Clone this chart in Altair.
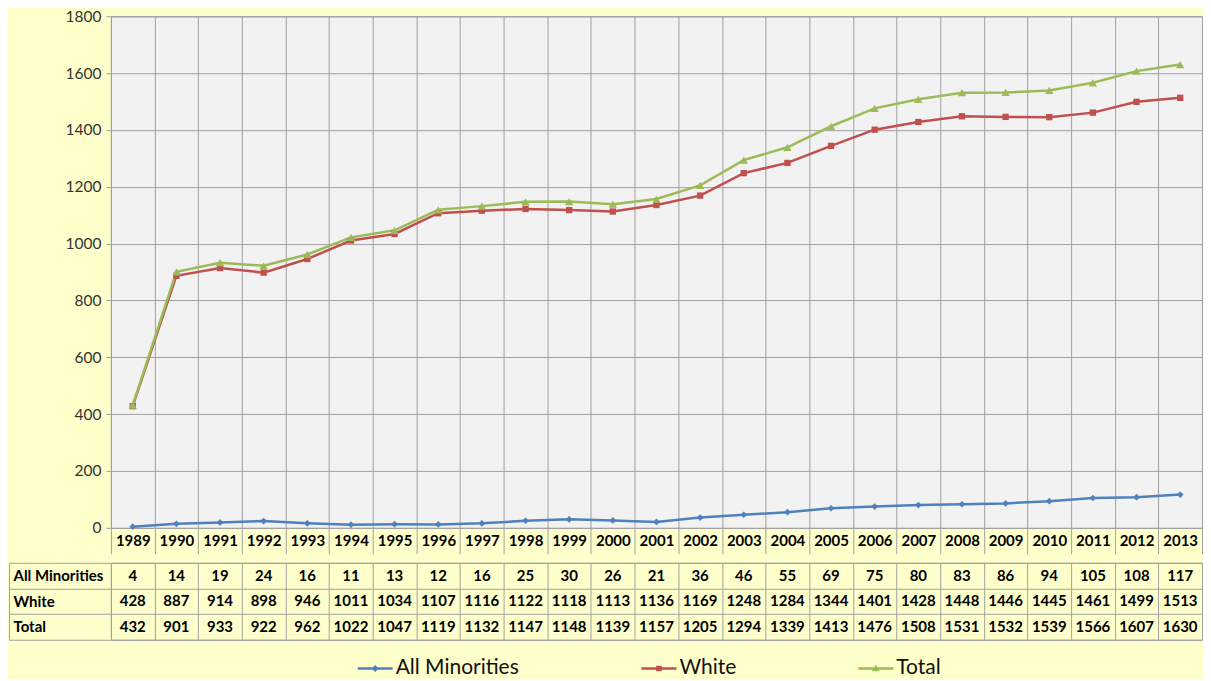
import altair as alt
import pandas as pd

years = [str(y) for y in range(1989, 2014)]
series_names = ["All Minorities", "White", "Total"]
minorities = [4, 14, 19, 24, 16, 11, 13, 12, 16, 25, 30, 26, 21, 36, 46, 55, 69, 75, 80, 83, 86, 94, 105, 108, 117]
white = [428, 887, 914, 898, 946, 1011, 1034, 1107, 1116, 1122, 1118, 1113, 1136, 1169, 1248, 1284, 1344, 1401, 1428, 1448, 1446, 1445, 1461, 1499, 1513]
total = [432, 901, 933, 922, 962, 1022, 1047, 1119, 1132, 1147, 1148, 1139, 1157, 1205, 1294, 1339, 1413, 1476, 1508, 1531, 1532, 1539, 1566, 1607, 1630]
y_ticks = [0, 200, 400, 600, 800, 1000, 1200, 1400, 1600, 1800]

colors = ["#4F81BD", "#C0504D", "#9BBB59"]
marker_shapes = ["diamond", "square", "triangle-up"]
marker_sizes = [45, 40, 70]
LINE_PART = "M-1,-0.07L1,-0.07L1,0.07L-1,0.07Z"
legend_paths = [
    LINE_PART + "M0,-0.2L0.2,0L0,0.2L-0.2,0Z",
    LINE_PART + "M-0.16,-0.16L0.16,-0.16L0.16,0.16L-0.16,0.16Z",
    LINE_PART + "M0,-0.22L0.22,0.16L-0.22,0.16Z",
]

rows = []
for name, vals in zip(series_names, [minorities, white, total]):
    for yr, v in zip(years, vals):
        rows.append({"year": yr, "series": name, "value": v, "label": str(v)})
df = pd.DataFrame(rows)

GRID = "#A0A0A0"
FONT = "Lato"
W = 1092
H = 512
ROW_H = 77

x_scale = alt.Scale(type="band", domain=years, paddingInner=0, paddingOuter=0)
x_top = alt.X(
    "year:O", scale=x_scale,
    axis=alt.Axis(title=None, tickBand="extent", grid=True, gridColor=GRID, ticks=True,
                  tickSize=26, tickColor=GRID, domain=False, labelFont=FONT, labelFontSize=15,
                  labelFontWeight="bold", labelColor="#000000", labelPadding=-13,
                  labelBaseline="middle", labelAngle=0, labelOverlap=False),
)
y_top = alt.Y(
    "value:Q", scale=alt.Scale(domain=[0, 1800], nice=False),
    axis=alt.Axis(title=None, values=y_ticks, format="d", grid=True, gridColor=GRID, tickSize=5,
                  tickColor=GRID, domain=False, labelFont=FONT, labelFontSize=15.5,
                  labelColor="#333333", labelPadding=5),
)
color_enc = alt.Color("series:N", scale=alt.Scale(domain=series_names, range=colors), legend=None)

base = alt.Chart(df)

leg = alt.Legend(orient="none", legendX=247, legendY=635, direction="horizontal", title=None,
                 labelFont=FONT, labelFontSize=21, labelColor="#111111", symbolSize=1225,
                 columnPadding=122, labelOffset=3, symbolStrokeWidth=0)
legend_layer = base.transform_filter("false").mark_point(filled=True, opacity=1).encode(
    shape=alt.Shape("series:N", scale=alt.Scale(domain=series_names, range=legend_paths), legend=leg),
    fill=alt.Fill("series:N", scale=alt.Scale(domain=series_names, range=colors), legend=leg),
)

lines = base.mark_line(strokeWidth=2.5).encode(x=x_top, y=y_top, color=color_enc)
markers = [
    base.transform_filter(alt.datum.series == name)
    .mark_point(filled=True, opacity=1, shape=shp, size=sz)
    .encode(x=x_top, y=y_top, color=color_enc)
    for name, shp, sz in zip(series_names, marker_shapes, marker_sizes)
]

top = alt.layer(legend_layer, lines, *markers).properties(
    width=W, height=H, view=alt.ViewBackground(fill="#F2F2F2", stroke=GRID)
)

table_text = alt.Chart(df).mark_text(
    font=FONT, fontSize=15, fontWeight="bold", color="#000000", baseline="middle"
).encode(
    x=alt.X("year:O", scale=x_scale,
            axis=alt.Axis(title=None, labels=False, ticks=False, domain=False, grid=True,
                          gridColor=GRID, tickBand="extent")),
    y=alt.Y("series:N", scale=alt.Scale(type="band", domain=series_names, paddingInner=0, paddingOuter=0),
            axis=alt.Axis(title=None, tickBand="extent", tickSize=102, tickColor=GRID, grid=True,
                          gridColor=GRID, domain=False, labelAlign="left", labelPadding=-4,
                          labelBaseline="middle", labelFont=FONT, labelFontSize=15,
                          labelFontWeight="bold", labelColor="#000000")),
    text="label:N",
)
border = alt.Chart(df).transform_filter("false").mark_text().encode(
    y=alt.Y("series:N", scale=alt.Scale(type="band", domain=series_names, paddingInner=0, paddingOuter=0),
            axis=alt.Axis(title=None, orient="left", offset=102, labels=False, ticks=False,
                          grid=False, domain=True, domainColor=GRID)),
    text="label:N",
)
bottom = alt.layer(table_text, border).resolve_scale(y="independent").properties(
    width=W, height=ROW_H, view=alt.ViewBackground(stroke=GRID)
)

chart = alt.vconcat(top, bottom, spacing=0).configure(
    background="#FFFFCC", padding={"left": 0, "top": 0, "right": 0, "bottom": 0}
).configure_axis(gridWidth=1, tickWidth=1, domainWidth=1)

chart.save("out.html", embed_options={"renderer": "svg", "actions": False})
